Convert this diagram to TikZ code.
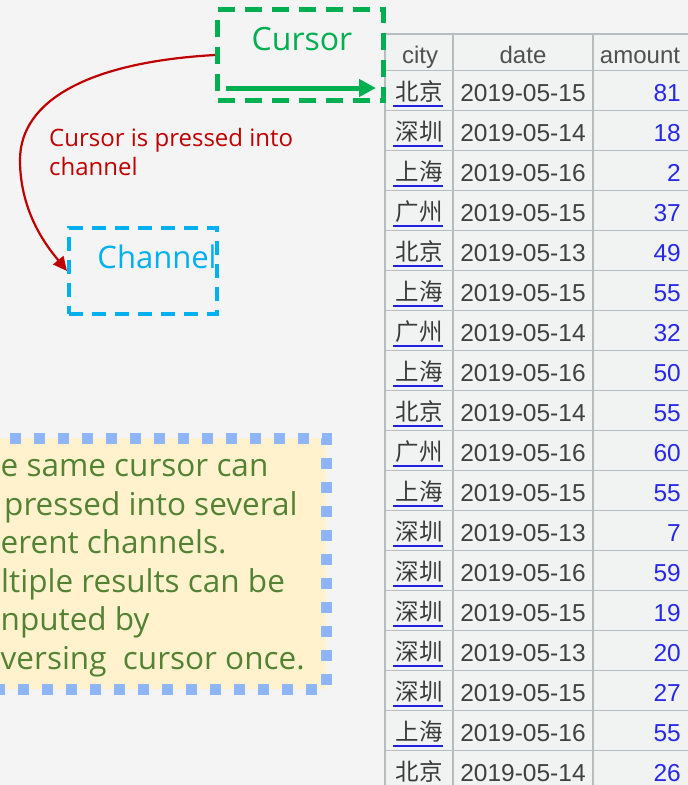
\documentclass[tikz,border=0pt]{standalone}
\usepackage{fontspec}
\setmainfont{Open Sans}
\newfontfamily\tabfont{Liberation Sans}
\newfontfamily\cjkfont{Noto Sans CJK SC}
\usetikzlibrary{arrows.meta}
\definecolor{bgcol}{HTML}{F4F4F4}
\definecolor{cellcol}{HTML}{F1F3F3}
\definecolor{gridcol}{HTML}{B5BDC1}
\definecolor{hdrcol}{HTML}{505050}
\definecolor{datecol}{HTML}{404040}
\definecolor{citycol}{HTML}{3A3A3A}
\definecolor{amtcol}{HTML}{2828E6}
\definecolor{ulcol}{HTML}{2020E0}
\definecolor{curgreen}{HTML}{00B050}
\definecolor{chanblue}{HTML}{00B0F0}
\definecolor{darkred}{HTML}{C00000}
\definecolor{notegreen}{HTML}{548235}
\definecolor{notefill}{HTML}{FFF2CC}
\definecolor{notedot}{HTML}{8EB4FA}
\tikzset{
  cursorbox/.style={draw=curgreen, line width=5pt, dash pattern=on 17pt off 10pt, rectangle, inner sep=0pt},
  chanbox/.style={draw=chanblue, line width=4pt, dash pattern=on 14pt off 9pt, rectangle, inner sep=0pt},
  notebox/.style={draw=notedot, fill=notefill, line width=11pt, dash pattern=on 11pt off 13pt, rectangle, inner sep=0pt},
  bigtxt/.style={font=\fontsize{32}{38}\selectfont, inner sep=0pt},
  notetxt/.style={font=\fontsize{31.5}{38}\selectfont, text=notegreen, inner sep=0pt, anchor=base west},
  redlbl/.style={font=\fontsize{24}{29}\selectfont, text=darkred, inner sep=0pt, align=left},
  greenarrow/.style={draw=curgreen, line width=5pt, -{Triangle[length=17pt,width=17pt]}},
  redarrow/.style={draw=darkred, line width=2.2pt, -{Triangle[length=14pt,width=13pt]}},
  gridline/.style={draw=gridcol, line width=1.6pt},
  hdr/.style={font=\tabfont\fontsize{24}{28}\selectfont, text=hdrcol, inner sep=0pt, anchor=base},
  citytxt/.style={font=\cjkfont\fontsize{23.5}{28}\selectfont, text=citycol, inner sep=0pt, anchor=base},
  datetxt/.style={font=\tabfont\fontsize{24.5}{28}\selectfont, text=datecol, inner sep=0pt, anchor=base},
  amttxt/.style={font=\tabfont\fontsize{24.5}{28}\selectfont, text=amtcol, inner sep=0pt, anchor=base east},
  uline/.style={draw=ulcol, line width=2pt},
}
\begin{document}
\begin{tikzpicture}[x=1pt,y=-1pt]
\clip (0,0) rectangle (688,785);
\fill[bgcol] (0,0) rectangle (688,785);

% table
\fill[cellcol] (385,34) rectangle (700,795);
\draw[gridline] (385,34) -- (700,34);
\foreach \k in {0,...,18} {
  \draw[gridline] (385,{70.5+40*\k}) -- (700,{70.5+40*\k});
}
\foreach \xx in {385,453,593} {
  \draw[gridline] (\xx,34) -- (\xx,795);
}
\node[hdr] (hcity) at (420,63) {city};
\node[hdr] (hdate) at (523,63) {date};
\node[hdr] (hamt) at (640,63) {amount};
\foreach \c/\d/\a [count=\i] in {北京/2019-05-15/81, 深圳/2019-05-14/18, 上海/2019-05-16/2, 广州/2019-05-15/37, 北京/2019-05-13/49, 上海/2019-05-15/55, 广州/2019-05-14/32, 上海/2019-05-16/50, 北京/2019-05-14/55, 广州/2019-05-16/60, 上海/2019-05-15/55, 深圳/2019-05-13/7, 深圳/2019-05-16/59, 深圳/2019-05-15/19, 深圳/2019-05-13/20, 深圳/2019-05-15/27, 上海/2019-05-16/55, 北京/2019-05-14/26} {
  \pgfmathsetmacro{\rt}{70.5+40*(\i-1)}
  \node[citytxt] (city\i) at (419,{\rt+29.5}) {\c};
  \draw[uline] (393,{\rt+35}) -- (443,{\rt+35});
  \node[datetxt] (date\i) at (523,{\rt+30.5}) {\d};
  \node[amttxt] (amt\i) at (681,{\rt+30.5}) {\a};
}

% cursor box
\node[cursorbox, minimum width=165.5pt, minimum height=91pt] (cursor) at (300.25,55) {};
\node[bigtxt, text=curgreen, anchor=base] (cursorlbl) at (302,50) {Cursor};
\coordinate (gs) at (226,88);
\coordinate (ge) at (376,88);
\draw[greenarrow] (gs) -- (ge);

% channel box
\node[chanbox, minimum width=148pt, minimum height=86pt] (channel) at (143,271) {};
\node[bigtxt, text=chanblue, anchor=base, font=\fontsize{31}{38}\selectfont] (chanlbl) at (157,268) {Channel};

% red arrow
\draw[redarrow] (cursor.west) .. controls (90,62) and (20,100) .. (20,160) .. controls (20,215) and (50,250) .. (channel.west);
\node[redlbl, anchor=north west] (presslbl) at (49,128) {Cursor is pressed into\\channel};

% note box
\node[notebox, minimum width=356pt, minimum height=251pt] (note) at (148,563.5) {};
\node[notetxt] (t1) at (0.5,476.5) {e same cursor can};
\node[notetxt] (t2) at (4,515) {pressed into several};
\node[notetxt] (t3) at (0.5,553.5) {erent channels.};
\node[notetxt] (t4) at (1,592) {ltiple results can be};
\node[notetxt] (t5) at (0.5,630.5) {nputed by};
\node[notetxt] (t6) at (0.5,669) {versing\ \ cursor once.};
\end{tikzpicture}
\end{document}
